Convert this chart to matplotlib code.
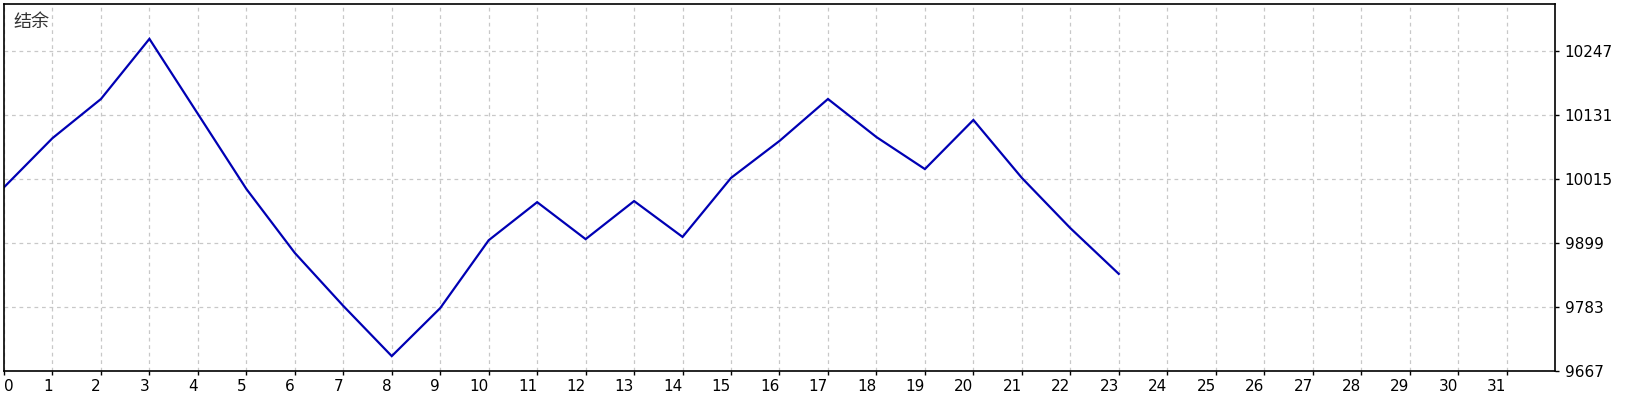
import matplotlib
matplotlib.use("Agg")
import matplotlib.pyplot as plt
from matplotlib.ticker import FixedLocator

title = "结余"
x_vals = list(range(24))
balance = [10000, 10089, 10160, 10269, 10133, 9997, 9881, 9785, 9694, 9781,
           9904, 9973, 9906, 9975, 9910, 10017, 10084, 10160, 10091, 10033,
           10122, 10017, 9926, 9843]
x_ticks = list(range(32))
y_ticks = [9667, 9783, 9899, 10015, 10131, 10247]

fig = plt.figure(figsize=(16.4, 4.0), dpi=100)
W, H = 1640, 400
left, right, top, bottom = 4, 1555, 4, 371
ax = fig.add_axes([left / W, 1 - bottom / H, (right - left) / W, (bottom - top) / H])

ax.plot(x_vals, balance, color="#0000b4", lw=1.6, solid_joinstyle="miter")

ax.set_xlim(0, 32)
ax.set_ylim(9667, 9667 + 367 * 116 / 64)

ax.xaxis.set_major_locator(FixedLocator(x_ticks))
ax.set_xticklabels([str(t) for t in x_ticks])
ax.yaxis.set_major_locator(FixedLocator(y_ticks))
ax.set_yticklabels([str(t) for t in y_ticks])
ax.yaxis.tick_right()

ax.tick_params(axis="both", direction="out", length=3, width=1, color="black",
               labelsize=11, labelcolor="black")
ax.tick_params(axis="x", pad=3)
ax.tick_params(axis="y", pad=4)

for i, lab in enumerate(ax.get_xticklabels()):
    lab.set_ha("left" if i == 0 else "right")

ax.grid(True, color="#c8c8c8", linestyle=(0, (3, 3)), linewidth=0.9)
for s in ax.spines.values():
    s.set_color("black")
    s.set_linewidth(1.2)

ax.text(0.006, 0.975, title, transform=ax.transAxes, ha="left", va="top",
        fontsize=13, color="#333333", family=["Noto Sans CJK SC", "DejaVu Sans"])

fig.savefig("out.png", dpi=100)
